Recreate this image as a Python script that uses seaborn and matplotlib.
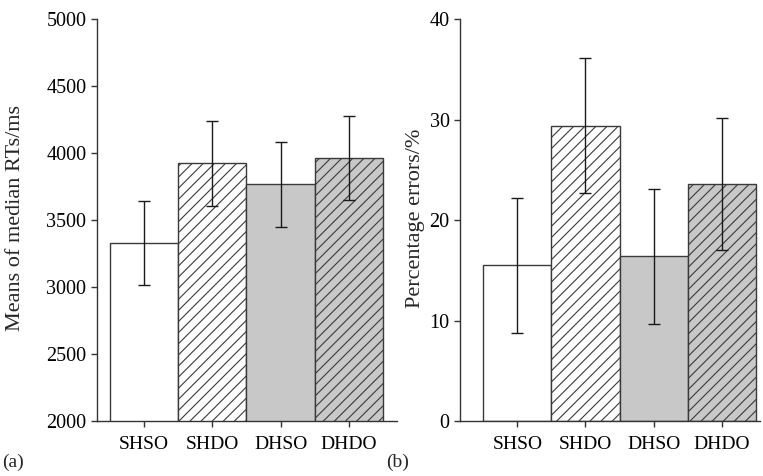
import matplotlib
matplotlib.use('Agg')
import matplotlib.pyplot as plt
import seaborn as sns
import pandas as pd

# values
conditions = ['SHSO', 'SHDO', 'DHSO', 'DHDO']
rt_means = [3330, 3923, 3766, 3965]
rt_errs = [315, 315, 315, 315]
pe_means = [15.5, 29.4, 16.4, 23.6]
pe_errs = [6.7, 6.7, 6.7, 6.6]

rt_ticks = [2000, 2500, 3000, 3500, 4000, 4500, 5000]
pe_ticks = [0, 10, 20, 30, 40]

fills = ['white', 'white', '#c8c8c8', '#c8c8c8']
hatches = ['', '///', '', '///']

sns.set_style('ticks')
plt.rcParams['font.family'] = ['Liberation Serif', 'DejaVu Serif']
plt.rcParams['hatch.linewidth'] = 0.8
plt.rcParams['hatch.color'] = '#2a2a2a'

fig = plt.figure(figsize=(7.63, 4.76), dpi=100)
ax1 = fig.add_axes([0.127, 0.1155, 0.393, 0.8445])
ax2 = fig.add_axes([0.603, 0.1155, 0.393, 0.8445])


def draw_panel(ax, means, errs, ticks, ylabel, xlim, label_x):
    df = pd.DataFrame({'cond': conditions, 'val': means})
    sns.barplot(data=df, x='cond', y='val', ax=ax, width=1.0, errorbar=None,
                edgecolor='#3a3a3a', linewidth=1)
    for bar, fc, h in zip(ax.patches, fills, hatches):
        bar.set_facecolor(fc)
        bar.set_hatch(h)
    ax.errorbar(range(len(conditions)), means, yerr=errs, fmt='none',
                ecolor='#1a1a1a', elinewidth=1, capsize=4, capthick=1, zorder=5)
    ax.set_ylim(ticks[0], ticks[-1])
    ax.set_yticks(ticks)
    ax.set_xlim(*xlim)
    ax.set_xlabel('')
    ax.set_ylabel(ylabel, fontsize=16)
    ax.yaxis.set_label_coords(label_x, 0.505)
    ax.tick_params(axis='both', labelsize=14, length=4.5, width=1,
                   color='#333333', labelcolor='black')
    ax.tick_params(axis='y', labelsize=14.5, pad=3)
    ax.tick_params(axis='x', pad=6)
    for side in ['left', 'bottom']:
        ax.spines[side].set_color('#333333')
        ax.spines[side].set_linewidth(1)
    sns.despine(ax=ax)


draw_panel(ax1, rt_means, rt_errs, rt_ticks, 'Means of median RTs/ms',
           (-0.69, 3.7), -0.24)
draw_panel(ax2, pe_means, pe_errs, pe_ticks, 'Percentage errors/%',
           (-0.84, 3.56), -0.117)

fig.text(0.003, 0.018, '(a)', fontsize=14, va='baseline')
fig.text(0.506, 0.018, '(b)', fontsize=14, va='baseline')

fig.savefig('out.png', dpi=100)
